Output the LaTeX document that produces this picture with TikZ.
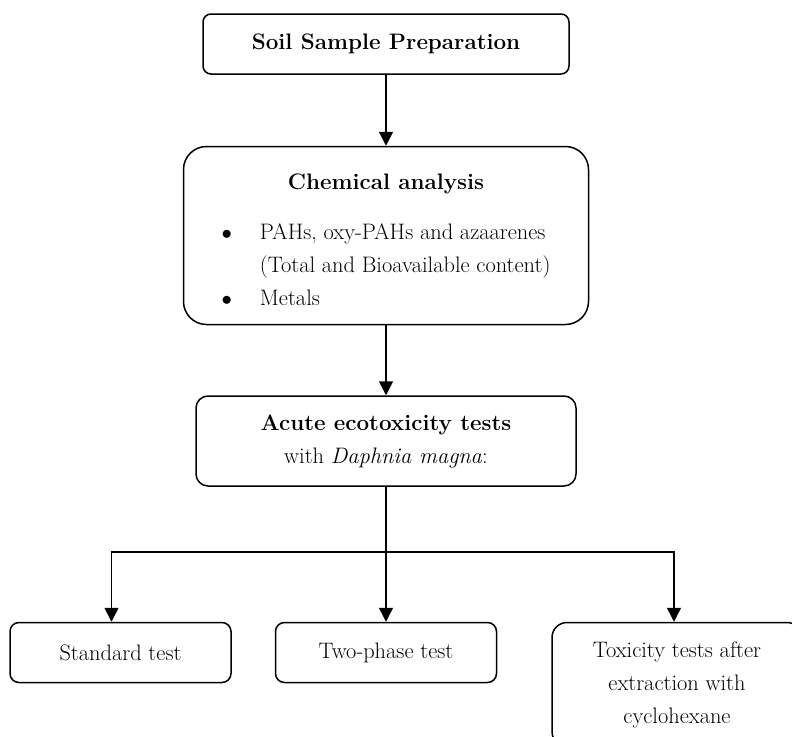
\documentclass[tikz,border=0pt]{standalone}
\usepackage{fontspec}
\usepackage{tikz}
\usetikzlibrary{arrows.meta,positioning}
\tikzset{
  fbox/.style={draw, line width=1.5pt, align=center, inner sep=4pt,
               font=\fontsize{22.4}{33}\selectfont},
  nsoil/.style={fbox, rounded corners=8pt, minimum width=366pt, minimum height=60pt},
  nchem/.style={fbox, rounded corners=23pt, minimum width=405pt, minimum height=178pt},
  nacute/.style={fbox, rounded corners=12pt, minimum width=380pt, minimum height=90pt},
  ntest/.style={fbox, rounded corners=9pt, minimum width=221pt, minimum height=60pt},
  nextr/.style={fbox, rounded corners=15pt, minimum width=250pt, minimum height=124pt},
  link/.style={line width=1.5pt},
  flow/.style={link, -{Triangle[length=14pt, width=14pt]}},
}
\begin{document}
\begin{tikzpicture}[x=1pt, y=1pt]
  \useasboundingbox (0,0) rectangle (792,-736);
  \node[nsoil] (soil) at (386,-44) {\textbf{Soil Sample Preparation}};
  \node[nchem, below=71pt of soil] (chem) {\rule{0pt}{34pt}\textbf{Chemical analysis}\\[22pt]
    \begin{tabular}{@{}l@{\hspace{28pt}}l@{}}
      $\bullet$ & PAHs, oxy-PAHs and azaarenes\\
                & (Total and Bioavailable content)\\
      $\bullet$ & Metals
    \end{tabular}};
  \node[nacute, below=70pt of chem] (acute) {\textbf{Acute ecotoxicity tests}\\
    with \textit{Daphnia magna}:};
  \coordinate[below=65pt of acute] (split);
  \node[ntest, below=135pt of acute] (two) {Two-phase test};
  \node[ntest, left=43pt of two] (std) {Standard test};
  \node[nextr, right=54pt of two.north east, anchor=north west] (extr)
    {Toxicity tests after\\ extraction with\\ cyclohexane};
  % connectors
  \draw[flow] (soil) -- (chem);
  \draw[flow] (chem) -- (acute);
  \draw[link] (acute) -- (split);
  \draw[flow] (split) -| ([xshift=-9pt]std.north);
  \draw[flow] (split) -- (split |- two.north);
  \draw[flow] (split) -| ([xshift=-3pt]extr.north);
\end{tikzpicture}
\end{document}
